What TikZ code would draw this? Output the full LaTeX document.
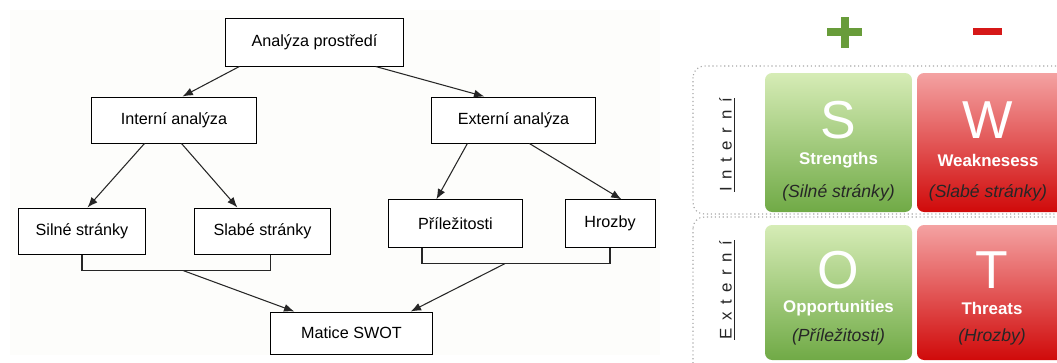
\documentclass[tikz,border=0pt]{standalone}
\usepackage{fontspec}
\setmainfont{Liberation Sans}
\newfontfamily\spacedfont[LetterSpace=45]{Liberation Sans}
\usetikzlibrary{arrows.meta,calc}
\definecolor{plusgreen}{RGB}{104,156,58}
\definecolor{minusred}{RGB}{214,24,24}
\definecolor{greentop}{RGB}{214,236,182}
\definecolor{greenbot}{RGB}{112,170,70}
\definecolor{redtop}{RGB}{244,162,162}
\definecolor{redbot}{RGB}{208,10,10}
\definecolor{panel}{RGB}{253,253,251}
\tikzset{
  box/.style={draw=black, line width=0.7pt, fill=white, inner sep=0pt,
    font=\fontsize{11.5}{13}\selectfont},
  conn/.style={draw=black!85, line width=0.75pt},
  arr/.style={conn, -{Latex[length=2.6mm,width=2mm]}},
  bigletter/.style={white, font=\fontsize{38}{40}\selectfont},
  engl/.style={white, font=\fontsize{12}{14}\selectfont\bfseries},
  czech/.style={black!85, font=\fontsize{12.5}{14}\selectfont\itshape},
  side/.style={rotate=90, black!85, font=\spacedfont\fontsize{12}{14}\selectfont},
  sep/.style={draw=black!35, dotted, line width=0.8pt, rounded corners=8},
}
\begin{document}
\begin{tikzpicture}[x=0.025cm, y=-0.025cm]
    \useasboundingbox (0,0) rectangle (1057,362);
    % Podklad
    \fill[panel] (10,10) rectangle (660,355);

    % Schema analyzy
    \node[box, minimum width=4.43cm, minimum height=1.2cm] (anal) at (314.5,42) {Analýza prostředí};
    \node[box, minimum width=4.1cm, minimum height=1.15cm] (int) at (174,120) {Interní analýza};
    \node[box, minimum width=4.08cm, minimum height=1.15cm] (ext) at (513.5,120) {Externí analýza};
    \node[box, minimum width=3.15cm, minimum height=1.15cm] (siln) at (82,231) {Silné stránky};
    \node[box, minimum width=3.38cm, minimum height=1.15cm] (slab) at (262.5,231) {Slabé stránky};
    \node[box, minimum width=3.33cm, minimum height=1.18cm] (pril) at (455.5,223.5) {Příležitosti};
    \node[box, minimum width=2.25cm, minimum height=1.18cm] (hroz) at (610,223.5) {Hrozby};
    \node[box, minimum width=4.03cm, minimum height=1.05cm] (mat) at (351.5,333) {Matice SWOT};

    \draw[arr] ($(anal.south west)+(14,0)$) -- ($(int.north west)+(91,0)$);
    \draw[arr] ($(anal.south east)+(-28,0)$) -- ($(ext.north west)+(53,0)$);
    \draw[arr] ($(int.south west)+(53,0)$) -- ($(siln.north west)+(69,0)$);
    \draw[arr] ($(int.south west)+(90,0)$) -- ($(slab.north west)+(43,0)$);
    \draw[arr] ($(ext.south west)+(36,0)$) -- ($(pril.north west)+(48,0)$);
    \draw[arr] ($(ext.south west)+(98,0)$) -- ($(hroz.north west)+(57,0)$);

    % Spojeni do matice
    \draw[conn] (siln.south) -- ++(0,16) -| ($(slab.south)+(8,0)$);
    \draw[arr] ($(siln.south)+(101,16)$) -- ($(mat.north west)+(24,0)$);
    \draw[conn] ($(pril.south)+(-33.5,0)$) -- ++(0,16) -| (hroz.south);
    \draw[arr] ($(pril.south)+(49.5,16)$) -- ($(mat.north east)+(-22,0)$);

    % Plus a minus
    \fill[plusgreen] (827,28) rectangle (862,36);
    \fill[plusgreen] (840.5,17) rectangle (848.5,48);
    \fill[minusred] (973,28) rectangle (1002,35);

    % Oddily
    \draw[sep] (693,66) rectangle (1090,214);
    \draw[sep] (693,217) rectangle (1090,380);

    % Dlazdice
    \shade[top color=greentop, bottom color=greenbot, rounded corners=5] (765,73) rectangle (912,212);
    \shade[top color=redtop, bottom color=redbot, rounded corners=5] (917,73) rectangle (1075,212);
    \shade[top color=greentop, bottom color=greenbot, rounded corners=5] (765,225) rectangle (912,360);
    \shade[top color=redtop, bottom color=redbot, rounded corners=5] (917,225) rectangle (1075,360);

    \node[bigletter] (sl) at (838.5,120) {S};
    \node[engl] (se) at (838.5,160) {Strengths};
    \node[czech] (sc) at (838.5,193) {(Silné stránky)};
    \node[bigletter] (wl) at (988,120) {W};
    \node[engl] (we) at (988,160) {Weaknesess};
    \node[czech] (wc) at (988,193) {(Slabé stránky)};
    \node[bigletter] (ol) at (838.5,270) {O};
    \node[engl] (oe) at (838.5,308) {Opportunities};
    \node[czech] (oc) at (838.5,337) {(Příležitosti)};
    \node[bigletter] (tl) at (992,270) {T};
    \node[engl] (te) at (992,308) {Threats};
    \node[czech] (tc) at (992,337) {(Hrozby)};

    % Popisky oddilu
    \node[side] (intl) at (727,145) {\underline{Interní}};
    \node[side] (extl) at (727,290) {\underline{Externí}};
\end{tikzpicture}
\end{document}
